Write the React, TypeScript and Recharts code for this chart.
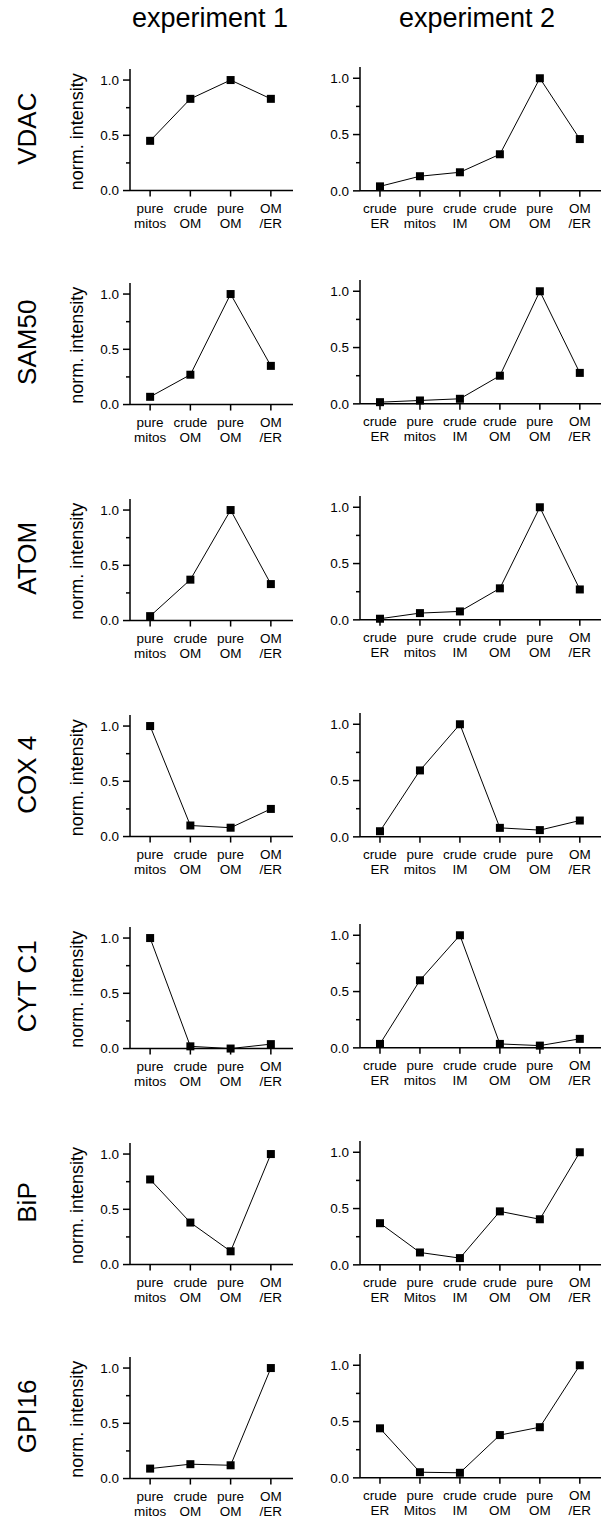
import { Line, LineChart, XAxis, YAxis } from "recharts";

// categories (two-line tick labels)
const exp1Categories = [["pure", "mitos"], ["crude", "OM"], ["pure", "OM"], ["OM", "/ER"]];
const exp2Categories = [["crude", "ER"], ["pure", "mitos"], ["crude", "IM"], ["crude", "OM"], ["pure", "OM"], ["OM", "/ER"]];
const exp2CategoriesCap = [["crude", "ER"], ["pure", "Mitos"], ["crude", "IM"], ["crude", "OM"], ["pure", "OM"], ["OM", "/ER"]];

const proteins = ["VDAC", "SAM50", "ATOM", "COX 4", "CYT C1", "BiP", "GPI16"];
const headers = ["experiment 1", "experiment 2"];
const yTicks = [0, 0.25, 0.5, 0.75, 1.0];
const yLabels: Record<string, string> = { "0": "0.0", "0.5": "0.5", "1": "1.0" };

// experiment 1
const exp1Vdac = [0.45, 0.83, 1.0, 0.83];
const exp1Sam50 = [0.07, 0.27, 1.0, 0.35];
const exp1Atom = [0.04, 0.37, 1.0, 0.33];
const exp1Cox4 = [1.0, 0.1, 0.08, 0.25];
const exp1CytC1 = [1.0, 0.02, 0.0, 0.04];
const exp1Bip = [0.77, 0.38, 0.12, 1.0];
const exp1Gpi16 = [0.09, 0.13, 0.12, 1.0];

// experiment 2
const exp2Vdac = [0.04, 0.13, 0.165, 0.325, 1.0, 0.46];
const exp2Sam50 = [0.015, 0.03, 0.045, 0.25, 1.0, 0.275];
const exp2Atom = [0.01, 0.06, 0.075, 0.28, 1.0, 0.27];
const exp2Cox4 = [0.05, 0.59, 1.0, 0.08, 0.06, 0.145];
const exp2CytC1 = [0.035, 0.6, 1.0, 0.035, 0.02, 0.08];
const exp2Bip = [0.37, 0.11, 0.06, 0.475, 0.405, 1.0];
const exp2Gpi16 = [0.44, 0.05, 0.045, 0.38, 0.45, 1.0];

const exp1Rows = [exp1Vdac, exp1Sam50, exp1Atom, exp1Cox4, exp1CytC1, exp1Bip, exp1Gpi16];
const exp2Rows = [exp2Vdac, exp2Sam50, exp2Atom, exp2Cox4, exp2CytC1, exp2Bip, exp2Gpi16];

// layout: y position of the 0.0 line for each row
const rowZero = [190.7, 404.3, 620.3, 836.7, 1048.3, 1264.5, 1478.3];
const FONT = "'Liberation Sans', Arial, sans-serif";
const MT = 10;
const XH = 45;

const Square = (props: any) => {
  const { cx, cy, index } = props;
  if (cx == null || cy == null) return <g key={index} />;
  return <rect key={index} x={cx - 4} y={cy - 4} width={8} height={8} fill="#000" />;
};

const YTick = (props: any) => {
  const { x, y, payload } = props;
  const label = yLabels[String(payload.value)];
  const major = label !== undefined;
  return (
    <g>
      <line x1={x - (major ? 7 : 4)} x2={x} y1={y} y2={y} stroke="#000" strokeWidth={1.5} />
      {major && (
        <text x={x - 11} y={y} dy="0.35em" textAnchor="end" fontSize={13.5} fontFamily={FONT} fill="#000">
          {label}
        </text>
      )}
    </g>
  );
};

const makeXTick = (cats: string[][]) => (props: any) => {
  const { x, y, payload } = props;
  const lines = cats[payload.value] || ["", ""];
  return (
    <g>
      <line x1={x} x2={x} y1={y} y2={y + 6} stroke="#000" strokeWidth={1.5} />
      <text x={x} y={y + 22.5} textAnchor="middle" fontSize={13.5} fontFamily={FONT} fill="#000">
        {lines[0]}
      </text>
      <text x={x} y={y + 37.5} textAnchor="middle" fontSize={13.5} fontFamily={FONT} fill="#000">
        {lines[1]}
      </text>
    </g>
  );
};

function Panel(props: any) {
  const { values, cats, left, width, yWidth, right, unit, zero, xMax } = props;
  const ph = 1.1 * unit;
  const height = MT + ph + XH;
  const data = values.map((v: number, i: number) => ({ i, v }));
  return (
    <div style={{ position: "absolute", left, top: zero - ph - MT }}>
      <LineChart width={width} height={height} data={data} margin={{ top: MT, right, bottom: 0, left: 0 }}>
        <XAxis
          dataKey="i"
          type="number"
          domain={[-0.5, xMax]}
          ticks={cats.map((_: any, i: number) => i)}
          interval={0}
          height={XH}
          tickSize={0}
          tickMargin={0}
          tickLine={false}
          axisLine={{ stroke: "#000", strokeWidth: 1.5 }}
          tick={makeXTick(cats)}
        />
        <YAxis
          type="number"
          domain={[0, 1.1]}
          ticks={yTicks}
          interval={0}
          width={yWidth}
          tickSize={0}
          tickMargin={0}
          tickLine={false}
          axisLine={{ stroke: "#000", strokeWidth: 1.5 }}
          tick={YTick}
        />
        <Line
          dataKey="v"
          stroke="#000"
          strokeWidth={1}
          dot={Square}
          activeDot={false}
          isAnimationActive={false}
        />
      </LineChart>
    </div>
  );
}

export default function App() {
  return (
    <div style={{ position: "absolute", left: 0, top: 0, width: 602, height: 1523, background: "#fff" }}>
      <svg width={602} height={1523} style={{ position: "absolute", left: 0, top: 0 }}>
        <text x={210} y={27} textAnchor="middle" fontSize={27} fontFamily={FONT} fill="#000">
          {headers[0]}
        </text>
        <text x={477} y={27} textAnchor="middle" fontSize={27} fontFamily={FONT} fill="#000">
          {headers[1]}
        </text>
        {proteins.map((p, r) => (
          <g key={p}>
            <text
              transform={`translate(27, ${rowZero[r] - 62}) rotate(-90)`}
              textAnchor="middle"
              dy="0.35em"
              fontSize={26}
              fontFamily={FONT}
              fill="#000"
            >
              {p}
            </text>
            <text
              transform={`translate(77, ${rowZero[r] - 59}) rotate(-90)`}
              textAnchor="middle"
              dy="0.35em"
              fontSize={18}
              fontFamily={FONT}
              fill="#000"
            >
              norm. intensity
            </text>
          </g>
        ))}
      </svg>
      {proteins.map((p, r) => (
        <div key={p}>
          <Panel values={exp1Rows[r]} cats={exp1Categories} left={0} width={300} yWidth={130} right={7} unit={110.5} zero={rowZero[r]} xMax={3.55} />
          <Panel
            values={exp2Rows[r]}
            cats={r >= 5 ? exp2CategoriesCap : exp2Categories}
            left={300}
            width={302}
            yWidth={60}
            right={1}
            unit={112.6}
            zero={rowZero[r]}
            xMax={5.53}
          />
        </div>
      ))}
    </div>
  );
}
